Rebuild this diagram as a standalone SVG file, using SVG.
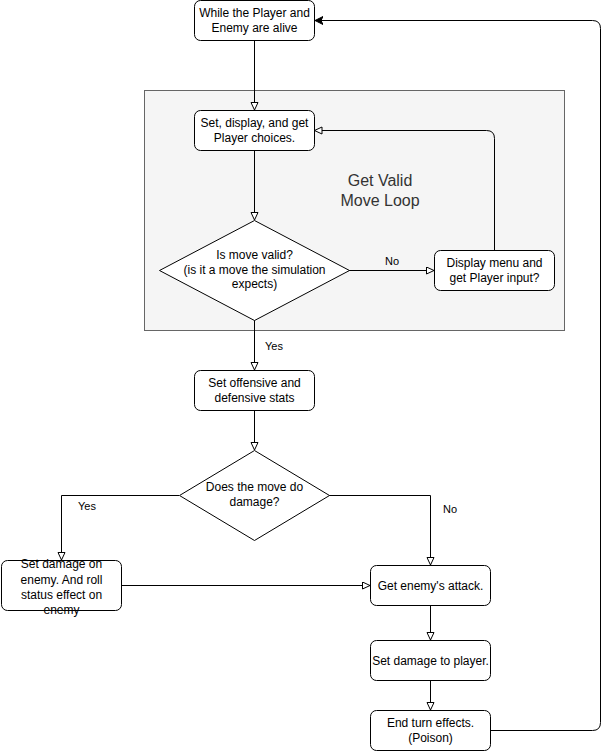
<svg xmlns="http://www.w3.org/2000/svg" width="609" height="751" viewBox="0 0 609 751">
<style>
.n{fill:#fff;stroke:#000;stroke-width:1}
.t{font-family:"Liberation Sans",Arial,sans-serif;font-size:12px;fill:#000;text-anchor:middle}
.l{font-family:"Liberation Sans",Arial,sans-serif;font-size:11px;fill:#000;text-anchor:middle}
.e{fill:none;stroke:#000;stroke-width:1}
</style>
<defs>
<marker id="open" markerWidth="10" markerHeight="10" refX="8" refY="4" orient="auto" markerUnits="userSpaceOnUse">
<path d="M0.5,0.5 L8,4 L0.5,7.5 Z" fill="#fff" stroke="#000" stroke-width="1"/>
</marker>
<marker id="classic" markerWidth="10" markerHeight="10" refX="8" refY="4" orient="auto" markerUnits="userSpaceOnUse">
<path d="M0,0 L8,4 L0,8 L2,4 Z" fill="#000" stroke="#000" stroke-width="1"/>
</marker>
</defs>
<rect width="609" height="751" fill="#fff"/>
<g id="container">
<rect x="144.5" y="90.5" width="420" height="240" fill="#f5f5f5" stroke="#666"/>
<text x="380" y="186" font-family="Liberation Sans,Arial,sans-serif" font-size="16" text-anchor="middle" fill="#333">Get Valid</text>
<text x="380" y="206" font-family="Liberation Sans,Arial,sans-serif" font-size="16" text-anchor="middle" fill="#333">Move Loop</text>
</g>
<g id="connectors">
<path class="e" d="M254.5,40.5 V110" marker-end="url(#open)"/>
<path class="e" d="M254.5,150.5 V220" marker-end="url(#open)"/>
<path class="e" d="M349,270.5 H434" marker-end="url(#open)"/>
<path class="e" d="M494.5,250 V138.5 Q494.5,130.5 486.5,130.5 H314.5" marker-end="url(#open)"/>
<path class="e" d="M254.5,320 V370" marker-end="url(#open)"/>
<path class="e" d="M254.5,410.5 V450" marker-end="url(#open)"/>
<path class="e" d="M179,495.5 H61.5 V560" marker-end="url(#open)"/>
<path class="e" d="M329,495.5 H430.5 V565" marker-end="url(#open)"/>
<path class="e" d="M121,585.5 H370" marker-end="url(#open)"/>
<path class="e" d="M430.5,605.5 V640" marker-end="url(#open)"/>
<path class="e" d="M430.5,680.5 V710" marker-end="url(#open)"/>
<path class="e" d="M490.5,730.5 H592.5 Q600.5,730.5 600.5,722.5 V28.5 Q600.5,20.5 592.5,20.5 H315" marker-end="url(#classic)"/>
<text class="l" x="392" y="265">No</text>
<text class="l" x="274" y="350">Yes</text>
<text class="l" x="87" y="510">Yes</text>
<text class="l" x="450" y="513">No</text>
</g>
<g id="n1">
<rect class="n" x="194.5" y="0.5" width="120" height="40" rx="6"/>
<text class="t" x="254.5" y="17">While the Player and</text>
<text class="t" x="254.5" y="32">Enemy are alive</text>
</g>
<g id="n2">
<rect class="n" x="194.5" y="110.5" width="120" height="40" rx="6"/>
<text class="t" x="254.5" y="127">Set, display, and get</text>
<text class="t" x="254.5" y="142">Player choices.</text>
</g>
<g id="n3">
<path class="n" d="M254.5,220.5 L349.5,270.5 L254.5,320.5 L159.5,270.5 Z"/>
<text class="t" x="254.5" y="259">Is move valid?</text>
<text class="t" x="254.5" y="273.5">(is it a move the simulation</text>
<text class="t" x="254.5" y="288">expects)</text>
</g>
<g id="n4">
<rect class="n" x="434.5" y="250.5" width="120" height="40" rx="6"/>
<text class="t" x="494.5" y="267">Display menu and</text>
<text class="t" x="494.5" y="282">get Player input?</text>
</g>
<g id="n5">
<rect class="n" x="194.5" y="370.5" width="120" height="40" rx="6"/>
<text class="t" x="254.5" y="387">Set offensive and</text>
<text class="t" x="254.5" y="402">defensive stats</text>
</g>
<g id="n6">
<path class="n" d="M254.5,450.5 L329.5,495.5 L254.5,540.5 L179.5,495.5 Z"/>
<text class="t" x="254.5" y="491">Does the move do</text>
<text class="t" x="254.5" y="505.5">damage?</text>
</g>
<g id="n7">
<rect class="n" x="1.5" y="560.5" width="120" height="50" rx="6"/>
<text class="t" x="61.5" y="568">Set damage on</text>
<text class="t" x="61.5" y="583.5">enemy. And roll</text>
<text class="t" x="61.5" y="599">status effect on</text>
<text class="t" x="61.5" y="614">enemy</text>
</g>
<g id="n8">
<rect class="n" x="370.5" y="565.5" width="120" height="40" rx="6"/>
<text class="t" x="430.5" y="590">Get enemy's attack.</text>
</g>
<g id="n9">
<rect class="n" x="370.5" y="640.5" width="120" height="40" rx="6"/>
<text class="t" x="430.5" y="665">Set damage to player.</text>
</g>
<g id="n10">
<rect class="n" x="370.5" y="710.5" width="120" height="40" rx="6"/>
<text class="t" x="430.5" y="727">End turn effects.</text>
<text class="t" x="430.5" y="742">(Poison)</text>
</g>
</svg>
